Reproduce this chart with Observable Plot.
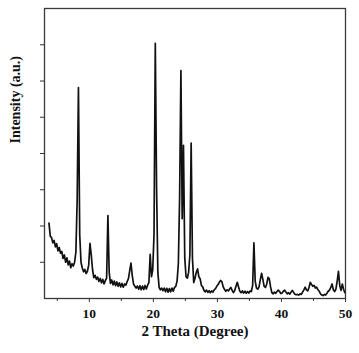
<!DOCTYPE html>
<html>
<head>
<meta charset="utf-8">
<script src="https://cdn.jsdelivr.net/npm/d3@7"></script>
<script src="https://cdn.jsdelivr.net/npm/@observablehq/plot@0.6"></script>
<style>
  html, body { margin: 0; padding: 0; background: #fff; }
  svg { display: block; }
</style>
</head>
<body>
<div id="chart"></div>
<script>
// XRD pattern: intensity sampled every 0.2 degree 2θ, starting at 3.7°
const thetaStart = 3.7;
const thetaStep = 0.2;
const intensity = [
  /* 3.7 */ 26.0, 21.5, 21.0, 19.2, 20.0, 17.8, 18.9, 16.4, 17.6, 15.6,
  /* 5.7 */ 16.2, 13.8, 15.0, 12.5, 14.0, 11.6, 12.9, 10.6, 12.0, 11.2,
  /* 7.7 */ 12.5, 16.0, 34.0, 72.7, 22.0, 12.5, 10.5, 9.2, 10.0, 8.6,
  /* 9.7 */ 9.4, 11.5, 19.0, 15.0, 10.0, 7.2, 8.0, 6.6, 7.4, 5.9,
  /* 11.7 */ 6.9, 5.4, 6.6, 5.0, 6.2, 7.0, 28.6, 9.0, 5.2, 6.4,
  /* 13.7 */ 4.7, 6.0, 4.4, 5.7, 4.2, 5.4, 4.0, 5.2, 3.9, 5.0,
  /* 15.7 */ 4.6, 5.8, 6.8, 9.5, 12.2, 8.0, 5.0, 4.2, 3.6, 4.3,
  /* 17.7 */ 3.2, 4.4, 3.0, 4.3, 3.1, 4.5, 3.3, 4.6, 5.5, 15.2,
  /* 19.7 */ 7.5, 10.0, 22.0, 88.0, 38.0, 9.0, 3.8, 3.0, 3.6, 2.7,
  /* 21.7 */ 3.6, 2.3, 3.5, 2.2, 3.4, 2.3, 3.6, 2.5, 3.8, 4.2,
  /* 23.7 */ 6.0, 12.0, 35.0, 78.6, 27.5, 52.8, 14.0, 7.5, 7.0, 9.0,
  /* 25.7 */ 15.0, 53.6, 14.0, 5.5, 7.0, 9.0, 10.2, 7.5, 6.8, 4.5,
  /* 27.7 */ 4.0, 2.8, 2.3, 2.9, 2.1, 2.7, 2.0, 2.6, 2.2, 3.0,
  /* 29.7 */ 3.4, 4.2, 4.8, 5.6, 6.2, 5.8, 4.0, 3.2, 2.5, 3.0,
  /* 31.7 */ 2.6, 3.3, 3.8, 2.8, 2.0, 2.8, 4.2, 5.6, 4.0, 2.5,
  /* 33.7 */ 2.0, 2.6, 1.9, 2.5, 1.8, 2.4, 1.9, 2.6, 2.4, 4.5,
  /* 35.7 */ 19.2, 6.0, 3.6, 3.2, 4.0, 6.5, 8.7, 6.5, 4.2, 3.8,
  /* 37.7 */ 5.0, 7.3, 6.8, 4.0, 2.0, 1.6, 2.2, 1.8, 2.4, 2.9,
  /* 39.7 */ 2.4, 1.7, 1.9, 2.5, 2.9, 2.2, 1.6, 2.0, 1.5, 2.2,
  /* 41.7 */ 2.8, 2.1, 1.5, 1.3, 1.4, 1.2, 1.6, 1.4, 2.2, 3.0,
  /* 43.7 */ 3.9, 3.0, 2.6, 3.8, 5.6, 4.8, 4.2, 4.5, 3.6, 3.9,
  /* 45.7 */ 3.0, 2.5, 1.6, 1.2, 1.0, 1.4, 1.2, 1.8, 2.5, 2.9,
  /* 47.7 */ 3.8, 5.0, 3.0, 2.4, 3.2, 6.0, 9.4, 4.5, 2.8, 5.0,
  /* 49.7 */ 3.2, 2.0
];

const xMajorTicks = [10, 20, 30, 40, 50];
const xMinorTicks = [5, 15, 25, 35, 45];
const yTicks = [12.5, 25, 37.5, 50, 62.5, 75, 87.5];
const xTitle = "2 Theta (Degree)";
const yTitle = "Intensity (a.u.)";

const data = intensity.map((v, i) => ({ t: +(thetaStart + i * thetaStep).toFixed(2), v }));

const font = "'Liberation Serif', 'Times New Roman', serif";

const chart = Plot.plot({
  width: 359,
  height: 353,
  marginTop: 8,
  marginRight: 14,
  marginBottom: 55,
  marginLeft: 44,
  x: { domain: [3, 50], label: null },
  y: { domain: [0, 100], label: null },
  style: { fontFamily: font, fontWeight: "bold", fontSize: "13.5px", color: "#111", background: "#fff" },
  marks: [
    Plot.axisX(xMajorTicks, { tickSize: 4, tickPadding: 6, stroke: "#333", label: null, fontSize: 13.5, fontWeight: "bold", tickFormat: d => String(d) }),
    Plot.axisX(xMinorTicks, { tickSize: 3, stroke: "#333", label: null, tickFormat: () => "" }),
    Plot.axisY(yTicks, { tickSize: 4, stroke: "#333", label: null, tickFormat: () => "" }),
    Plot.line(data, { x: "t", y: "v", stroke: "#111", strokeWidth: 1.7, strokeLinejoin: "round" }),
    Plot.frame({ stroke: "#3a3a3a", strokeWidth: 1.3 }),
    Plot.text([xTitle], { text: d => d, frameAnchor: "bottom", dy: 37, fontSize: 15, fontWeight: "bold", fill: "#111" }),
    Plot.text([yTitle], { text: d => d, frameAnchor: "left", dx: -29, dy: -10, rotate: -90, fontSize: 14, fontWeight: "bold", fill: "#111" })
  ]
});

document.getElementById("chart").appendChild(chart);
</script>
</body>
</html>
